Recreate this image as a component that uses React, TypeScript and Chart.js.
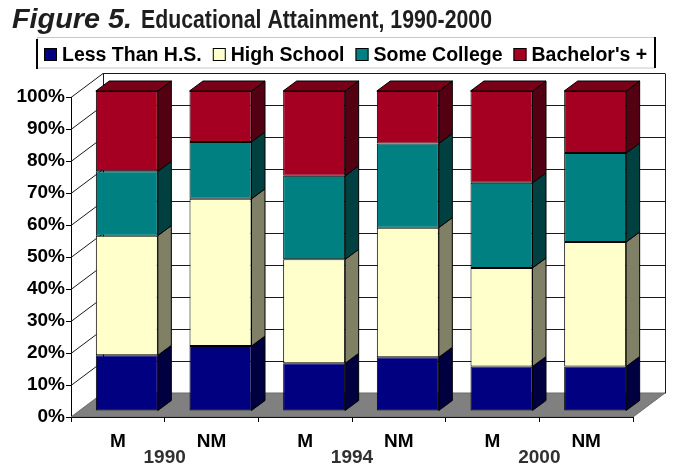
import React, { useEffect, useRef } from 'react';
import { Chart, registerables } from 'chart.js';

Chart.register(...registerables);

// ---------- data ----------
const categories = ['M', 'NM', 'M', 'NM', 'M', 'NM'];
const years = ['1990', '1994', '2000'];
const seriesNames = ['Less Than H.S.', 'High School', 'Some College', "Bachelor's +"];
const lessThanHS = [17.4, 20.3, 14.9, 16.8, 13.9, 13.9];
const highSchool = [37.4, 46.0, 32.5, 40.5, 30.8, 38.9];
const someCollege = [20.1, 17.8, 26.1, 26.3, 26.6, 27.8];
const bachelors = [25.1, 15.9, 26.5, 16.4, 28.7, 19.4];
const yTickValues = [0, 10, 20, 30, 40, 50, 60, 70, 80, 90, 100];
const titleLead = 'Figure 5.';
const titleText = 'Educational Attainment, 1990-2000';

// ---------- styles ----------
const frontColors = ['#000080', '#FFFFCC', '#008080', '#A50021'];
const sideColors = ['#000040', '#808066', '#004040', '#530012'];
const topColors = ['#00005C', '#B8B894', '#005C5C', '#7A0019'];
const FONT = '"Liberation Sans", Arial, sans-serif';
const DEPTH = { x: 32, y: -24 };
const BAR_OFF = { x: 9, y: -6 };
const BAR_DEPTH = { x: 13.5, y: -10 };

function fitText(ctx: CanvasRenderingContext2D, text: string, x: number, baseline: number, width: number, font: string) {
  ctx.font = font;
  const w = ctx.measureText(text).width;
  ctx.save();
  ctx.translate(x, baseline);
  ctx.scale(width / w, 1);
  ctx.textAlign = 'left';
  ctx.textBaseline = 'alphabetic';
  ctx.fillText(text, 0, 0);
  ctx.restore();
}

const threeD = {
  id: 'threeD',
  beforeDraw(chart: any) {
    const ctx: CanvasRenderingContext2D = chart.ctx;
    ctx.save();
    ctx.fillStyle = '#fff';
    ctx.fillRect(0, 0, chart.width, chart.height);

    // title
    ctx.fillStyle = '#1e1e1e';
    fitText(ctx, titleLead, 12, 28, 120, `italic 600 27px "Liberation Sans Narrow", ${FONT}`);
    fitText(ctx, titleText, 141, 28, 351, `bold 26px "Liberation Sans Narrow", ${FONT}`);

    // legend box
    ctx.strokeStyle = '#c8c8c8';
    ctx.lineWidth = 1;
    ctx.strokeRect(37.5, 37.5, 617, 30.5);
    ctx.strokeStyle = '#000';
    ctx.lineWidth = 2;
    ctx.beginPath();
    ctx.moveTo(37, 39); ctx.lineTo(37, 69);
    ctx.moveTo(655, 37); ctx.lineTo(655, 68);
    ctx.stroke();

    // legend items
    ctx.font = `bold 19.5px ${FONT}`;
    ctx.textBaseline = 'alphabetic';
    ctx.textAlign = 'left';
    let lx = 44;
    chart.data.datasets.forEach((ds: any, i: number) => {
      ctx.fillStyle = frontColors[i];
      ctx.fillRect(lx, 48, 13, 13);
      ctx.strokeStyle = '#000';
      ctx.lineWidth = 1;
      ctx.strokeRect(lx + 0.5, 48.5, 12, 12);
      ctx.fillStyle = '#000';
      ctx.fillText(ds.label, lx + 18, 61);
      lx += 18 + ctx.measureText(ds.label).width + 11;
    });
    ctx.restore();
  },
  beforeDatasetsDraw(chart: any) {
    const ctx: CanvasRenderingContext2D = chart.ctx;
    const a = chart.chartArea;
    const ys = chart.scales.y;
    ctx.save();
    ctx.strokeStyle = '#1a1a1a';
    ctx.lineWidth = 1;
    ctx.beginPath();
    yTickValues.forEach((v) => {
      if (v === 0) return;
      const yy = Math.round(ys.getPixelForValue(v)) + 0.5;
      ctx.moveTo(a.left + DEPTH.x, yy + DEPTH.y);
      ctx.lineTo(a.right + DEPTH.x, yy + DEPTH.y);
      ctx.moveTo(a.left, yy);
      ctx.lineTo(a.left + DEPTH.x, yy + DEPTH.y);
    });
    const topB = Math.round(ys.getPixelForValue(100)) + 0.5 + DEPTH.y;
    const botB = Math.round(ys.getPixelForValue(0)) + 0.5 + DEPTH.y;
    ctx.moveTo(a.left + DEPTH.x + 0.5, topB);
    ctx.lineTo(a.left + DEPTH.x + 0.5, botB);
    ctx.moveTo(a.right + DEPTH.x + 0.5, topB);
    ctx.lineTo(a.right + DEPTH.x + 0.5, botB);
    ctx.stroke();

    // floor
    const b = a.bottom;
    ctx.fillStyle = '#808080';
    ctx.strokeStyle = '#6a6a6a';
    ctx.beginPath();
    ctx.moveTo(a.left, b);
    ctx.lineTo(a.right, b);
    ctx.lineTo(a.right + DEPTH.x, b + DEPTH.y);
    ctx.lineTo(a.left + DEPTH.x, b + DEPTH.y);
    ctx.closePath();
    ctx.fill();
    ctx.stroke();
    ctx.strokeStyle = '#111';
    ctx.beginPath();
    ctx.moveTo(a.left, b + 0.5);
    ctx.lineTo(a.right, b + 0.5);
    ctx.stroke();
    ctx.restore();

    ctx.save();
    ctx.translate(BAR_OFF.x, BAR_OFF.y);
  },
  afterDatasetsDraw(chart: any) {
    const ctx: CanvasRenderingContext2D = chart.ctx;
    const n = chart.data.datasets.length;
    ctx.lineWidth = 1;
    ctx.strokeStyle = '#000';
    chart.data.datasets.forEach((ds: any, di: number) => {
      const meta = chart.getDatasetMeta(di);
      meta.data.forEach((bar: any) => {
        const { x, y, base, width } = bar.getProps(['x', 'y', 'base', 'width'], true);
        const l = x - width / 2;
        const r = x + width / 2;
        ctx.fillStyle = sideColors[di];
        ctx.beginPath();
        ctx.moveTo(r, y);
        ctx.lineTo(r + BAR_DEPTH.x, y + BAR_DEPTH.y);
        ctx.lineTo(r + BAR_DEPTH.x, base + BAR_DEPTH.y);
        ctx.lineTo(r, base);
        ctx.closePath();
        ctx.fill();
        ctx.stroke();
        if (di === n - 1) {
          ctx.fillStyle = topColors[di];
          ctx.beginPath();
          ctx.moveTo(l, y);
          ctx.lineTo(r, y);
          ctx.lineTo(r + BAR_DEPTH.x, y + BAR_DEPTH.y);
          ctx.lineTo(l + BAR_DEPTH.x, y + BAR_DEPTH.y);
          ctx.closePath();
          ctx.fill();
          ctx.stroke();
        }
      });
    });
    ctx.restore();
  },
  afterDraw(chart: any) {
    const ctx: CanvasRenderingContext2D = chart.ctx;
    const a = chart.chartArea;
    const xs = chart.scales.x;
    ctx.save();
    ctx.font = `bold 19px ${FONT}`;
    ctx.textAlign = 'center';
    ctx.textBaseline = 'alphabetic';
    ctx.fillStyle = '#000';
    categories.forEach((c, i) => {
      ctx.fillText(c, xs.getPixelForValue(i), a.bottom + 30);
    });
    ctx.fillStyle = '#303030';
    years.forEach((yr, k) => {
      const xm = (xs.getPixelForValue(2 * k) + xs.getPixelForValue(2 * k + 1)) / 2;
      ctx.fillText(yr, xm, a.bottom + 46);
    });
    ctx.restore();
  },
};

export default function App() {
  const ref = useRef<HTMLCanvasElement | null>(null);
  useEffect(() => {
    if (!ref.current) return;
    const seriesValues = [lessThanHS, highSchool, someCollege, bachelors];
    const chart = new Chart(ref.current, {
      type: 'bar',
      data: {
        labels: categories,
        datasets: seriesValues.map((vals, i) => ({
          label: seriesNames[i],
          data: vals,
          backgroundColor: frontColors[i],
          borderColor: '#000',
          borderWidth: 1,
          borderSkipped: false,
          barPercentage: 0.662,
          categoryPercentage: 1,
          clip: false as any,
        })),
      },
      options: {
        responsive: false,
        animation: false,
        events: [],
        layout: { padding: { top: 97, right: 49, left: 0, bottom: 0 } },
        plugins: {
          legend: { display: false },
          title: { display: false },
          tooltip: { enabled: false },
        },
        scales: {
          x: {
            stacked: true,
            grid: { drawOnChartArea: false, drawTicks: true, tickLength: 5, color: '#000', offset: true },
            border: { display: true, color: '#000' },
            ticks: { display: false },
            afterFit: (s: any) => { s.height = 57; },
          },
          y: {
            stacked: true,
            min: 0,
            max: 100,
            ticks: {
              stepSize: 10,
              callback: (v: any) => `${v}%`,
              font: { family: FONT, size: 19, weight: 'bold' },
              color: '#000',
              padding: 1,
            },
            grid: { drawOnChartArea: false, drawTicks: true, tickLength: 5, color: '#000' },
            border: { display: true, color: '#000' },
            afterFit: (s: any) => { s.width = 71; },
          },
        },
      },
      plugins: [threeD as any],
    });
    return () => chart.destroy();
  }, []);
  return (
    <div style={{ position: 'fixed', left: 0, top: 0, width: 682, height: 474, background: '#fff' }}>
      <canvas ref={ref} width={682} height={474} style={{ display: 'block', width: 682, height: 474 }} />
    </div>
  );
}
